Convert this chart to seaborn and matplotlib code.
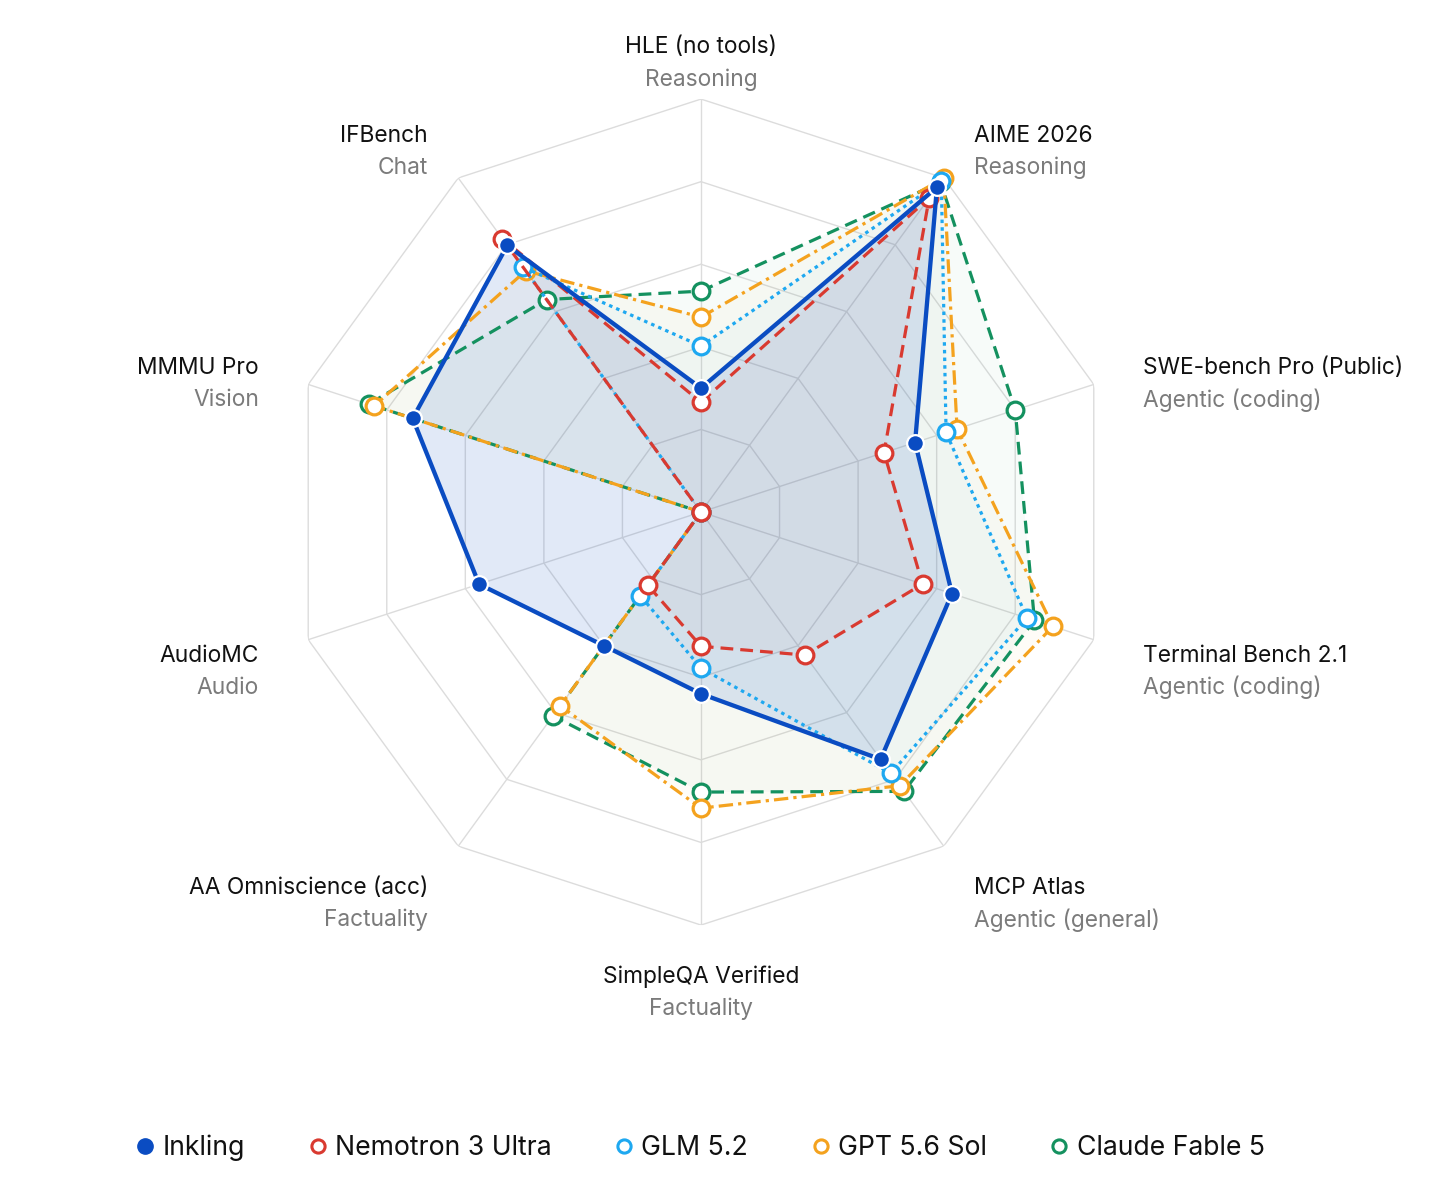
import numpy as np
import matplotlib.pyplot as plt
import seaborn as sns
from matplotlib.lines import Line2D

# Axes of the radar, clockwise from the top
benchmarks = ["HLE (no tools)", "AIME 2026", "SWE-bench Pro (Public)", "Terminal Bench 2.1",
              "MCP Atlas", "SimpleQA Verified", "AA Omniscience (acc)", "AudioMC",
              "MMMU Pro", "IFBench"]
categories = ["Reasoning", "Reasoning", "Agentic (coding)", "Agentic (coding)",
              "Agentic (general)", "Factuality", "Factuality", "Audio", "Vision", "Chat"]

# Normalised score per axis (0 = centre, 1 = outer ring)
inkling = [0.300, 0.972, 0.545, 0.639, 0.740, 0.440, 0.400, 0.565, 0.734, 0.798]
nemotron = [0.266, 0.940, 0.466, 0.564, 0.428, 0.325, 0.219, 0.0, 0.0, 0.818]
glm = [0.402, 0.990, 0.624, 0.830, 0.782, 0.378, 0.250, 0.0, 0.0, 0.733]
gpt = [0.472, 1.000, 0.652, 0.896, 0.819, 0.717, 0.580, 0.0, 0.832, 0.722]
claude = [0.535, 0.987, 0.800, 0.849, 0.836, 0.678, 0.610, 0.0, 0.846, 0.636]

models = ["Inkling", "Nemotron 3 Ultra", "GLM 5.2", "GPT 5.6 Sol", "Claude Fable 5"]
scores = [inkling, nemotron, glm, gpt, claude]
colors = ["#0a4cc2", "#d93a30", "#1ea8f0", "#f4a21e", "#14915f"]
styles = ["-", (0, (4, 2.2)), (0, (1.1, 1.3)), (0, (4.5, 1.6, 1.0, 1.6)), (0, (4, 2.2))]

sns.set_theme(style="white")
plt.rcParams["font.family"] = ["Inter", "DejaVu Sans"]

fig = plt.figure(figsize=(14.56, 11.95), dpi=100)
ax = fig.add_axes([0.1978, 0.2259, 0.5673, 0.6912], projection="polar")
ax.set_theta_zero_location("N")
ax.set_theta_direction(-1)
ax.grid(False)
ax.set_xticks([])
ax.set_yticks([])
ax.spines["polar"].set_visible(False)
ax.patch.set_alpha(0)

n = len(benchmarks)
theta = np.deg2rad(np.arange(n) * 360 / n)
theta_c = np.r_[theta, theta[0]]

# decagon grid + spokes
for r in [0.2, 0.4, 0.6, 0.8, 1.0]:
    ax.plot(theta_c, [r] * (n + 1), color="#dcdcdc", lw=1.0, zorder=0.5)
for t in theta:
    ax.plot([t, t], [0, 1], color="#dcdcdc", lw=1.0, zorder=0.5)

# draw back to front so Inkling ends up on top
for i in reversed(range(len(models))):
    vals = np.array(scores[i])
    vals_c = np.r_[vals, vals[0]]
    color = colors[i]
    top = i == 0
    z = 10 - 2 * i
    ax.fill(theta_c, vals_c, color=color, alpha=0.12 if top else 0.03, lw=0, zorder=1)
    sns.lineplot(x=theta_c, y=vals_c, sort=False, estimator=None, ax=ax, color=color,
                 lw=3.1 if top else 2.3, linestyle=styles[i], zorder=z, clip_on=False)
    if top:
        sns.scatterplot(x=theta, y=vals, ax=ax, s=145, color=color, edgecolor="white",
                        linewidth=1.6, zorder=z + 1, clip_on=False)
    else:
        sns.scatterplot(x=theta, y=vals, ax=ax, s=145, color="white", edgecolor=color,
                        linewidth=2.3, zorder=z + 1, clip_on=False)

ax.set_ylim(0, 1)
ax.set_xlabel("")
ax.set_ylabel("")

# axis labels
r_lab = 1.125
for t, name, cat in zip(theta, benchmarks, categories):
    deg = np.rad2deg(t) % 360
    if deg == 0 or deg == 180:
        ha = "center"
    elif deg < 180:
        ha = "left"
    else:
        ha = "right"
    ax.text(t, r_lab, name, ha=ha, va="center", fontsize=16.4, color="#111111")
    ax.annotate(cat, xy=(t, r_lab), xytext=(0, -23), textcoords="offset points",
                ha=ha, va="center", fontsize=16.4, color="#7b7b7b", annotation_clip=False)

# legend
handles = []
for i, m in enumerate(models):
    if i == 0:
        h = Line2D([], [], marker="o", linestyle="none", markersize=11,
                   markerfacecolor=colors[i], markeredgecolor=colors[i], label=m)
    else:
        h = Line2D([], [], marker="o", linestyle="none", markersize=9.5, markeredgewidth=2.2,
                   markerfacecolor="white", markeredgecolor=colors[i], label=m)
    handles.append(h)
fig.legend(handles=handles, loc="center", bbox_to_anchor=(0.4815, 0.0393), ncol=5,
           frameon=False, fontsize=19.2, handlelength=0.6, handletextpad=0.35,
           columnspacing=2.42, labelcolor="#111111")

fig.savefig("out.png", dpi=100)
